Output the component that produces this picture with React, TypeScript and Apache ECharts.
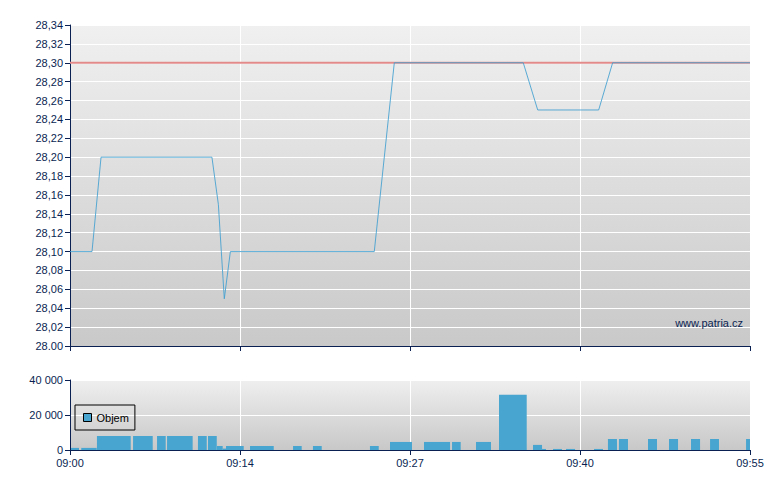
import React, { useEffect, useRef } from "react";
import * as echarts from "echarts";

// Price series: [minutes after 09:00, price]
const PRICE_MINUTES = [0, 1.78, 2.51, 11.48, 12.0, 12.48, 12.97, 24.61, 26.23, 36.66, 37.83, 42.76, 43.89, 55];
const PRICE_VALUES = [28.1, 28.1, 28.2, 28.2, 28.15, 28.05, 28.1, 28.1, 28.3, 28.3, 28.25, 28.25, 28.3, 28.3];
const REF_PRICE = 28.3;

// Volume bars: start minute, end minute, volume
const VOL_START = [0.08, 0.91, 2.18, 5.1, 7.04, 7.85, 10.35, 11.16, 11.89, 12.35, 12.62, 14.56, 18.04, 19.65, 24.26, 25.88, 28.63, 30.9, 32.84, 34.7, 37.45, 38.18, 39.07, 40.12, 42.38, 43.51, 44.4, 46.75, 48.45, 50.23, 51.77, 54.68];
const VOL_END = [0.73, 2.16, 4.91, 6.69, 7.74, 9.92, 11.06, 11.87, 12.35, 12.62, 14.05, 16.48, 18.74, 20.36, 24.97, 27.66, 30.74, 31.6, 34.05, 36.94, 38.18, 38.5, 39.79, 40.85, 43.11, 44.24, 45.13, 47.48, 49.18, 50.96, 52.49, 55.0];
const VOL_VALUES = [1200, 1200, 8000, 8000, 8000, 8000, 8000, 8000, 2300, 800, 2300, 2300, 2300, 2300, 2300, 4600, 4600, 4600, 4600, 31600, 2900, 600, 600, 600, 600, 6300, 6300, 6300, 6300, 6300, 6300, 6300];

const X_LABELS = ["09:00", "09:14", "09:27", "09:40", "09:55"];
const PRICE_LABELS = ["28.00", "28,02", "28,04", "28,06", "28,08", "28,10", "28,12", "28,14", "28,16", "28,18", "28,20", "28,22", "28,24", "28,26", "28,28", "28,30", "28,32", "28,34"];
const VOL_LABELS = ["0", "20 000", "40 000"];

const NAVY = "#0a1f52";
const FONT = "'Liberation Sans', Arial, sans-serif";

export default function App() {
  const ref = useRef<HTMLDivElement>(null);
  useEffect(() => {
    if (!ref.current) return;
    const chart = echarts.init(ref.current, null, { renderer: "svg" });
    const bg = (top: string, bottom: string) => ({
      type: "linear", x: 0, y: 0, x2: 0, y2: 1,
      colorStops: [{ offset: 0, color: top }, { offset: 1, color: bottom }],
    });
    const xStep = 55 / (X_LABELS.length - 1);
    const axisLine = { show: true, lineStyle: { color: NAVY, width: 1 } };
    const axisTick = { show: true, length: 5, lineStyle: { color: NAVY } };
    const splitLine = { show: true, lineStyle: { color: "#ffffff", width: 1 } };
    const labelStyle = { color: NAVY, fontFamily: FONT, fontSize: 11 };

    chart.setOption({
      animation: false,
      grid: [
        { left: 70, right: 30, top: 25, height: 321, show: true, borderWidth: 0, backgroundColor: bg("#f0f0f0", "#c9c9c9") },
        { left: 70, right: 30, top: 380, height: 70, show: true, borderWidth: 0, backgroundColor: bg("#efefef", "#c8c8c8") },
      ],
      xAxis: [
        {
          type: "value", gridIndex: 0, min: 0, max: 55, interval: xStep,
          axisLine, axisTick, splitLine, axisLabel: { show: false },
        },
        {
          type: "value", gridIndex: 1, min: 0, max: 55, interval: xStep,
          axisLine, axisTick, splitLine,
          axisLabel: {
            ...labelStyle, margin: 7,
            formatter: (v: number) => X_LABELS[Math.round(v / xStep)] ?? "",
          },
        },
      ],
      yAxis: [
        {
          type: "value", gridIndex: 0, min: 28.0, max: 28.34, interval: 0.02,
          axisLine, axisTick, splitLine,
          axisLabel: {
            ...labelStyle, margin: 7,
            formatter: (v: number) => PRICE_LABELS[Math.round((v - 28.0) / 0.02)] ?? "",
          },
        },
        {
          type: "value", gridIndex: 1, min: 0, max: 40000, interval: 20000,
          axisLine, axisTick, splitLine,
          axisLabel: {
            ...labelStyle, margin: 7,
            formatter: (v: number) => VOL_LABELS[Math.round(v / 20000)] ?? "",
          },
        },
      ],
      legend: {
        left: 75, top: 405,
        padding: [7, 6, 7, 8],
        borderColor: "#000", borderWidth: 1, borderRadius: 0,
        itemWidth: 8, itemHeight: 8, itemGap: 4,
        textStyle: { color: "#000", fontFamily: FONT, fontSize: 11 },
        data: [{ name: "Objem", icon: "rect", itemStyle: { color: "#47a5cf", borderColor: "#000", borderWidth: 1 } }],
      },
      series: [
        {
          name: "Ref", type: "line", xAxisIndex: 0, yAxisIndex: 0, symbol: "none", z: 2,
          data: [[0, REF_PRICE], [55, REF_PRICE]],
          lineStyle: { color: "#e28a8a", width: 2 },
        },
        {
          name: "Cena", type: "line", xAxisIndex: 0, yAxisIndex: 0, symbol: "none", z: 3,
          data: PRICE_MINUTES.map((m, i) => [m, PRICE_VALUES[i]]),
          lineStyle: { color: "#3f9fd0", width: 1, opacity: 0.85 },
        },
        {
          name: "Objem", type: "custom", xAxisIndex: 1, yAxisIndex: 1,
          itemStyle: { color: "#47a5cf" },
          encode: { x: [0, 1], y: 2 },
          data: VOL_START.map((s, i) => [s, VOL_END[i], VOL_VALUES[i]]),
          renderItem: (params: any, api: any) => {
            const a = api.coord([api.value(0), api.value(2)]);
            const b = api.coord([api.value(1), 0]);
            return {
              type: "rect",
              shape: { x: a[0], y: a[1], width: b[0] - a[0], height: b[1] - a[1] },
              style: { fill: "#47a5cf" },
            };
          },
        },
      ],
      graphic: [
        {
          type: "text", right: 37, top: 317,
          style: { text: "www.patria.cz", fill: NAVY, font: `11px ${FONT}` },
          z: 10,
        },
      ],
    });
    return () => chart.dispose();
  }, []);
  return <div ref={ref} style={{ position: "absolute", left: 0, top: 0, width: 780, height: 490 }} />;
}
